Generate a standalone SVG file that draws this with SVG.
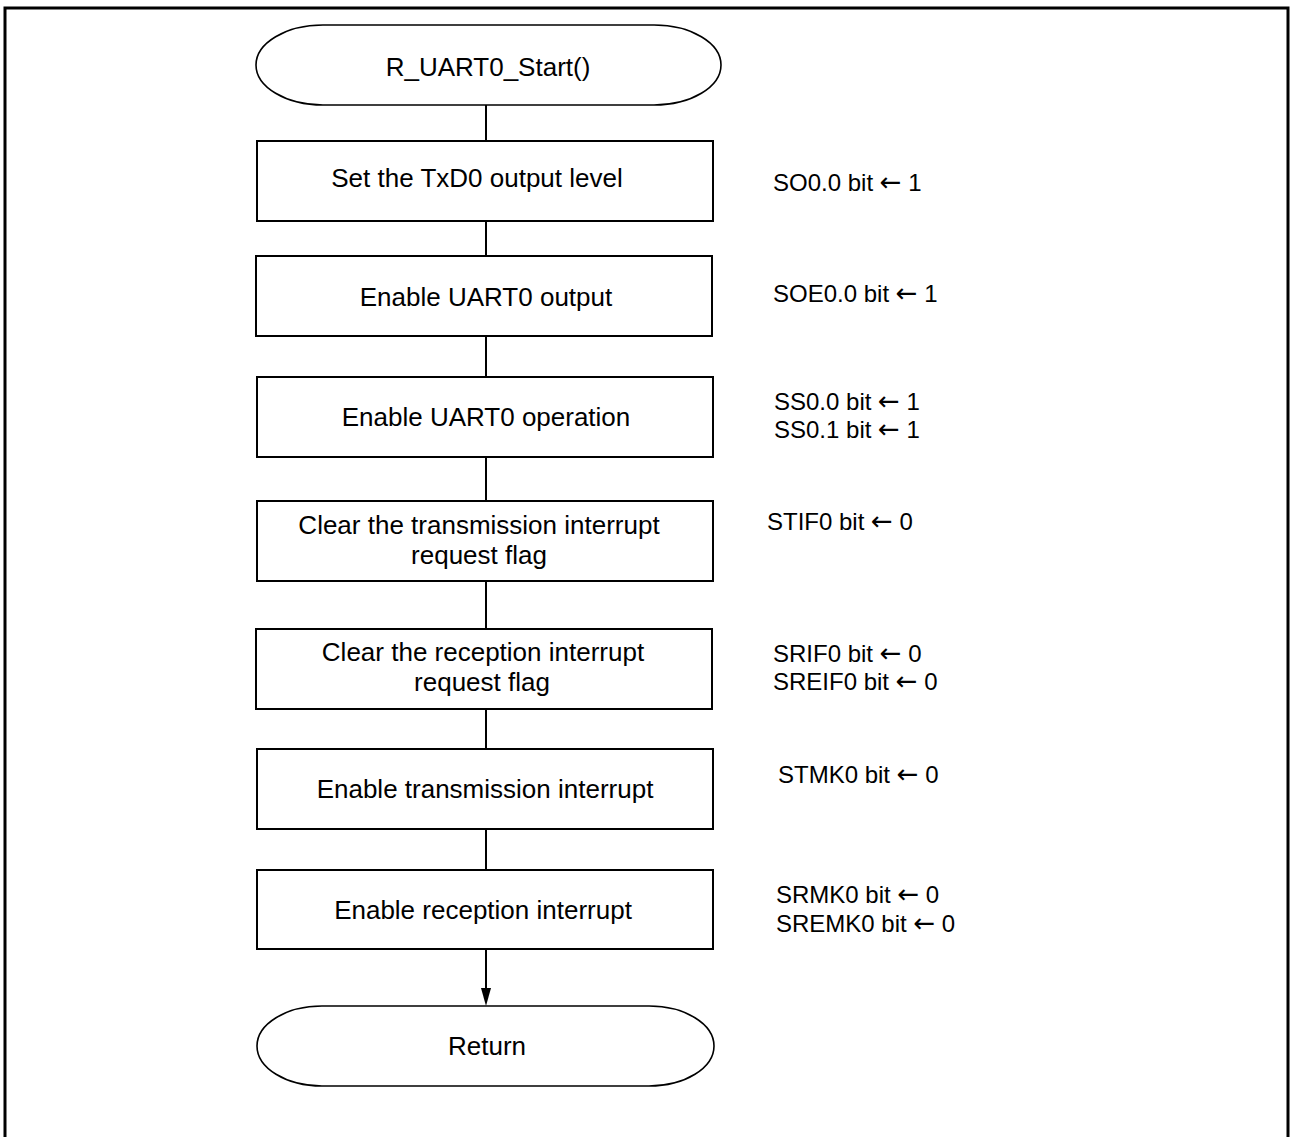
<svg xmlns="http://www.w3.org/2000/svg" width="1290" height="1137" viewBox="0 0 1290 1137">
<style>
.box{fill:#fff;stroke:#000;stroke-width:2}
.term{fill:#fff;stroke:#000;stroke-width:1.6}
.t{font-family:"Liberation Sans",Arial,sans-serif;font-size:26px;fill:#000;text-anchor:middle}
.s{font-family:"Liberation Sans",Arial,sans-serif;font-size:24px;fill:#000}
.a{font-family:"DejaVu Sans",sans-serif;font-size:26px}
.c{stroke:#000;stroke-width:2;fill:none}
</style>
<path d="M5,1140 V8 H1288 V1140" fill="none" stroke="#000" stroke-width="3"/>
<g id="connectors">
<line class="c" x1="486" y1="105" x2="486" y2="141"/>
<line class="c" x1="486" y1="221" x2="486" y2="256"/>
<line class="c" x1="486" y1="336" x2="486" y2="377"/>
<line class="c" x1="486" y1="457" x2="486" y2="501"/>
<line class="c" x1="486" y1="581" x2="486" y2="629"/>
<line class="c" x1="486" y1="709" x2="486" y2="749"/>
<line class="c" x1="486" y1="829" x2="486" y2="870"/>
<line class="c" x1="486" y1="949" x2="486" y2="990"/>
<path d="M481,988 L491,988 L486,1006 Z" fill="#000"/>
</g>
<g id="start">
<rect class="term" x="256" y="25" width="465" height="80" rx="67" ry="40"/>
<text class="t" x="488" y="76">R_UART0_Start()</text>
</g>
<g id="n1">
<rect class="box" x="257" y="141" width="456" height="80"/>
<text class="t" x="477" y="187">Set the TxD0 output level</text>
</g>
<g id="n2">
<rect class="box" x="256" y="256" width="456" height="80"/>
<text class="t" x="486" y="306">Enable UART0 output</text>
</g>
<g id="n3">
<rect class="box" x="257" y="377" width="456" height="80"/>
<text class="t" x="486" y="426">Enable UART0 operation</text>
</g>
<g id="n4">
<rect class="box" x="257" y="501" width="456" height="80"/>
<text class="t" x="479" y="534">Clear the transmission interrupt</text>
<text class="t" x="479" y="564">request flag</text>
</g>
<g id="n5">
<rect class="box" x="256" y="629" width="456" height="80"/>
<text class="t" x="483" y="661">Clear the reception interrupt</text>
<text class="t" x="482" y="691">request flag</text>
</g>
<g id="n6">
<rect class="box" x="257" y="749" width="456" height="80"/>
<text class="t" x="485" y="798">Enable transmission interrupt</text>
</g>
<g id="n7">
<rect class="box" x="257" y="870" width="456" height="79"/>
<text class="t" x="483" y="919">Enable reception interrupt</text>
</g>
<g id="end">
<rect class="term" x="257" y="1006" width="457" height="80" rx="65" ry="40"/>
<text class="t" x="487" y="1055">Return</text>
</g>
<g id="notes">
<text class="s" x="773" y="191">SO0.0 bit <tspan class="a">←</tspan> 1</text>
<text class="s" x="773" y="302">SOE0.0 bit <tspan class="a">←</tspan> 1</text>
<text class="s" x="774" y="410">SS0.0 bit <tspan class="a">←</tspan> 1</text>
<text class="s" x="774" y="438">SS0.1 bit <tspan class="a">←</tspan> 1</text>
<text class="s" x="767" y="530">STIF0 bit <tspan class="a">←</tspan> 0</text>
<text class="s" x="773" y="662">SRIF0 bit <tspan class="a">←</tspan> 0</text>
<text class="s" x="773" y="690">SREIF0 bit <tspan class="a">←</tspan> 0</text>
<text class="s" x="778" y="783">STMK0 bit <tspan class="a">←</tspan> 0</text>
<text class="s" x="776" y="903">SRMK0 bit <tspan class="a">←</tspan> 0</text>
<text class="s" x="776" y="932">SREMK0 bit <tspan class="a">←</tspan> 0</text>
</g>
</svg>
